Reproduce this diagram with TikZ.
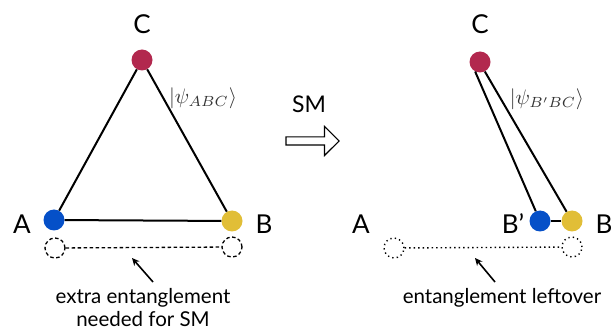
\documentclass[tikz,border=0pt]{standalone}
\usepackage{fontspec}
\setmainfont{Lato}
\usetikzlibrary{arrows.meta,shapes.arrows}
\definecolor{cred}{RGB}{178,40,78}
\definecolor{cblue}{RGB}{5,80,200}
\definecolor{cyel}{RGB}{225,190,55}
\tikzset{
  qubit/.style={circle,minimum size=21pt,inner sep=0pt},
  ghostdash/.style={circle,minimum size=20pt,inner sep=0pt,draw,dash pattern=on 3.5pt off 2.5pt,line width=1.3pt},
  ghostdot/.style={circle,minimum size=20pt,inner sep=0pt,draw,dash pattern=on 1.3pt off 3.2pt,line width=1.4pt},
  bond/.style={line width=2pt},
  lbl/.style={font=\fontsize{26}{26}\selectfont,inner sep=0pt},
  note/.style={font=\fontsize{20.5}{23}\selectfont,inner sep=0pt,align=center},
  ket/.style={inner sep=0pt,scale=2.1,text=black!80},
  pointer/.style={line width=1.6pt,-{Stealth[length=7.5pt,width=7pt]}},
}
\begin{document}
\begin{tikzpicture}[x=1pt,y=-1pt]
\useasboundingbox (0,0) rectangle (613,331);
% left
\node[qubit,fill=cred] (C1) at (142,60) {};
\node[qubit,fill=cblue] (A1) at (54,220) {};
\node[qubit,fill=cyel] (B1) at (232,221) {};
\draw[bond] (A1) -- (C1);
\draw[bond] (C1) -- (B1);
\draw[bond] (A1) -- (B1);
\node[ghostdash] (GA1) at (55,248) {};
\node[ghostdash] (GB1) at (232,247) {};
\draw[dash pattern=on 3.5pt off 2.5pt,line width=1.3pt] (GA1) -- (GB1);
\node[lbl] (LC1) at (142,24) {C};
\node[lbl] (LA1) at (22,224) {A};
\node[lbl] (LB1) at (264,224) {B};
\node[ket] (P1) at (203,98) {$|\psi_{ABC}\rangle$};
\coordinate (T1) at (153,282);
\coordinate (H1) at (132,258);
\draw[pointer] (T1) -- (H1);
\node[note] (N1) at (143,308) {extra entanglement\\needed for SM};
% middle
\node[inner sep=0pt,font=\fontsize{23}{23}\selectfont] (SM) at (309,104) {SM};
\node[single arrow,draw,line width=1.1pt,minimum height=53pt,inner xsep=0pt,inner ysep=3.5pt,single arrow head extend=10.5pt,single arrow head indent=0pt] (AR) at (310.5,141) {};
% right
\node[qubit,fill=cred] (C2) at (480,62) {};
\node[qubit,fill=cblue] (Bp2) at (540,221) {};
\node[qubit,fill=cyel] (B2) at (572,221) {};
\draw[bond] (C2.243) -- (Bp2);
\draw[bond] (C2.297) -- (B2);
\draw[bond] (Bp2) -- (B2);
\node[ghostdot] (GA2) at (394,248) {};
\node[ghostdot] (GB2) at (572,247) {};
\draw[dash pattern=on 1.3pt off 3.2pt,line width=1.4pt] (GA2) -- (GB2);
\node[lbl] (LC2) at (480,24) {C};
\node[lbl] (LA2) at (361,224) {A};
\node[lbl] (LBp2) at (513,224) {B’};
\node[lbl] (LB2) at (604,224) {B};
\node[ket] (P2) at (547,99) {$|\psi_{B'BC}\rangle$};
\coordinate (T2) at (495,282);
\coordinate (H2) at (475,258);
\draw[pointer] (T2) -- (H2);
\node[note] (N2) at (502,298) {entanglement leftover};
\end{tikzpicture}
\end{document}
